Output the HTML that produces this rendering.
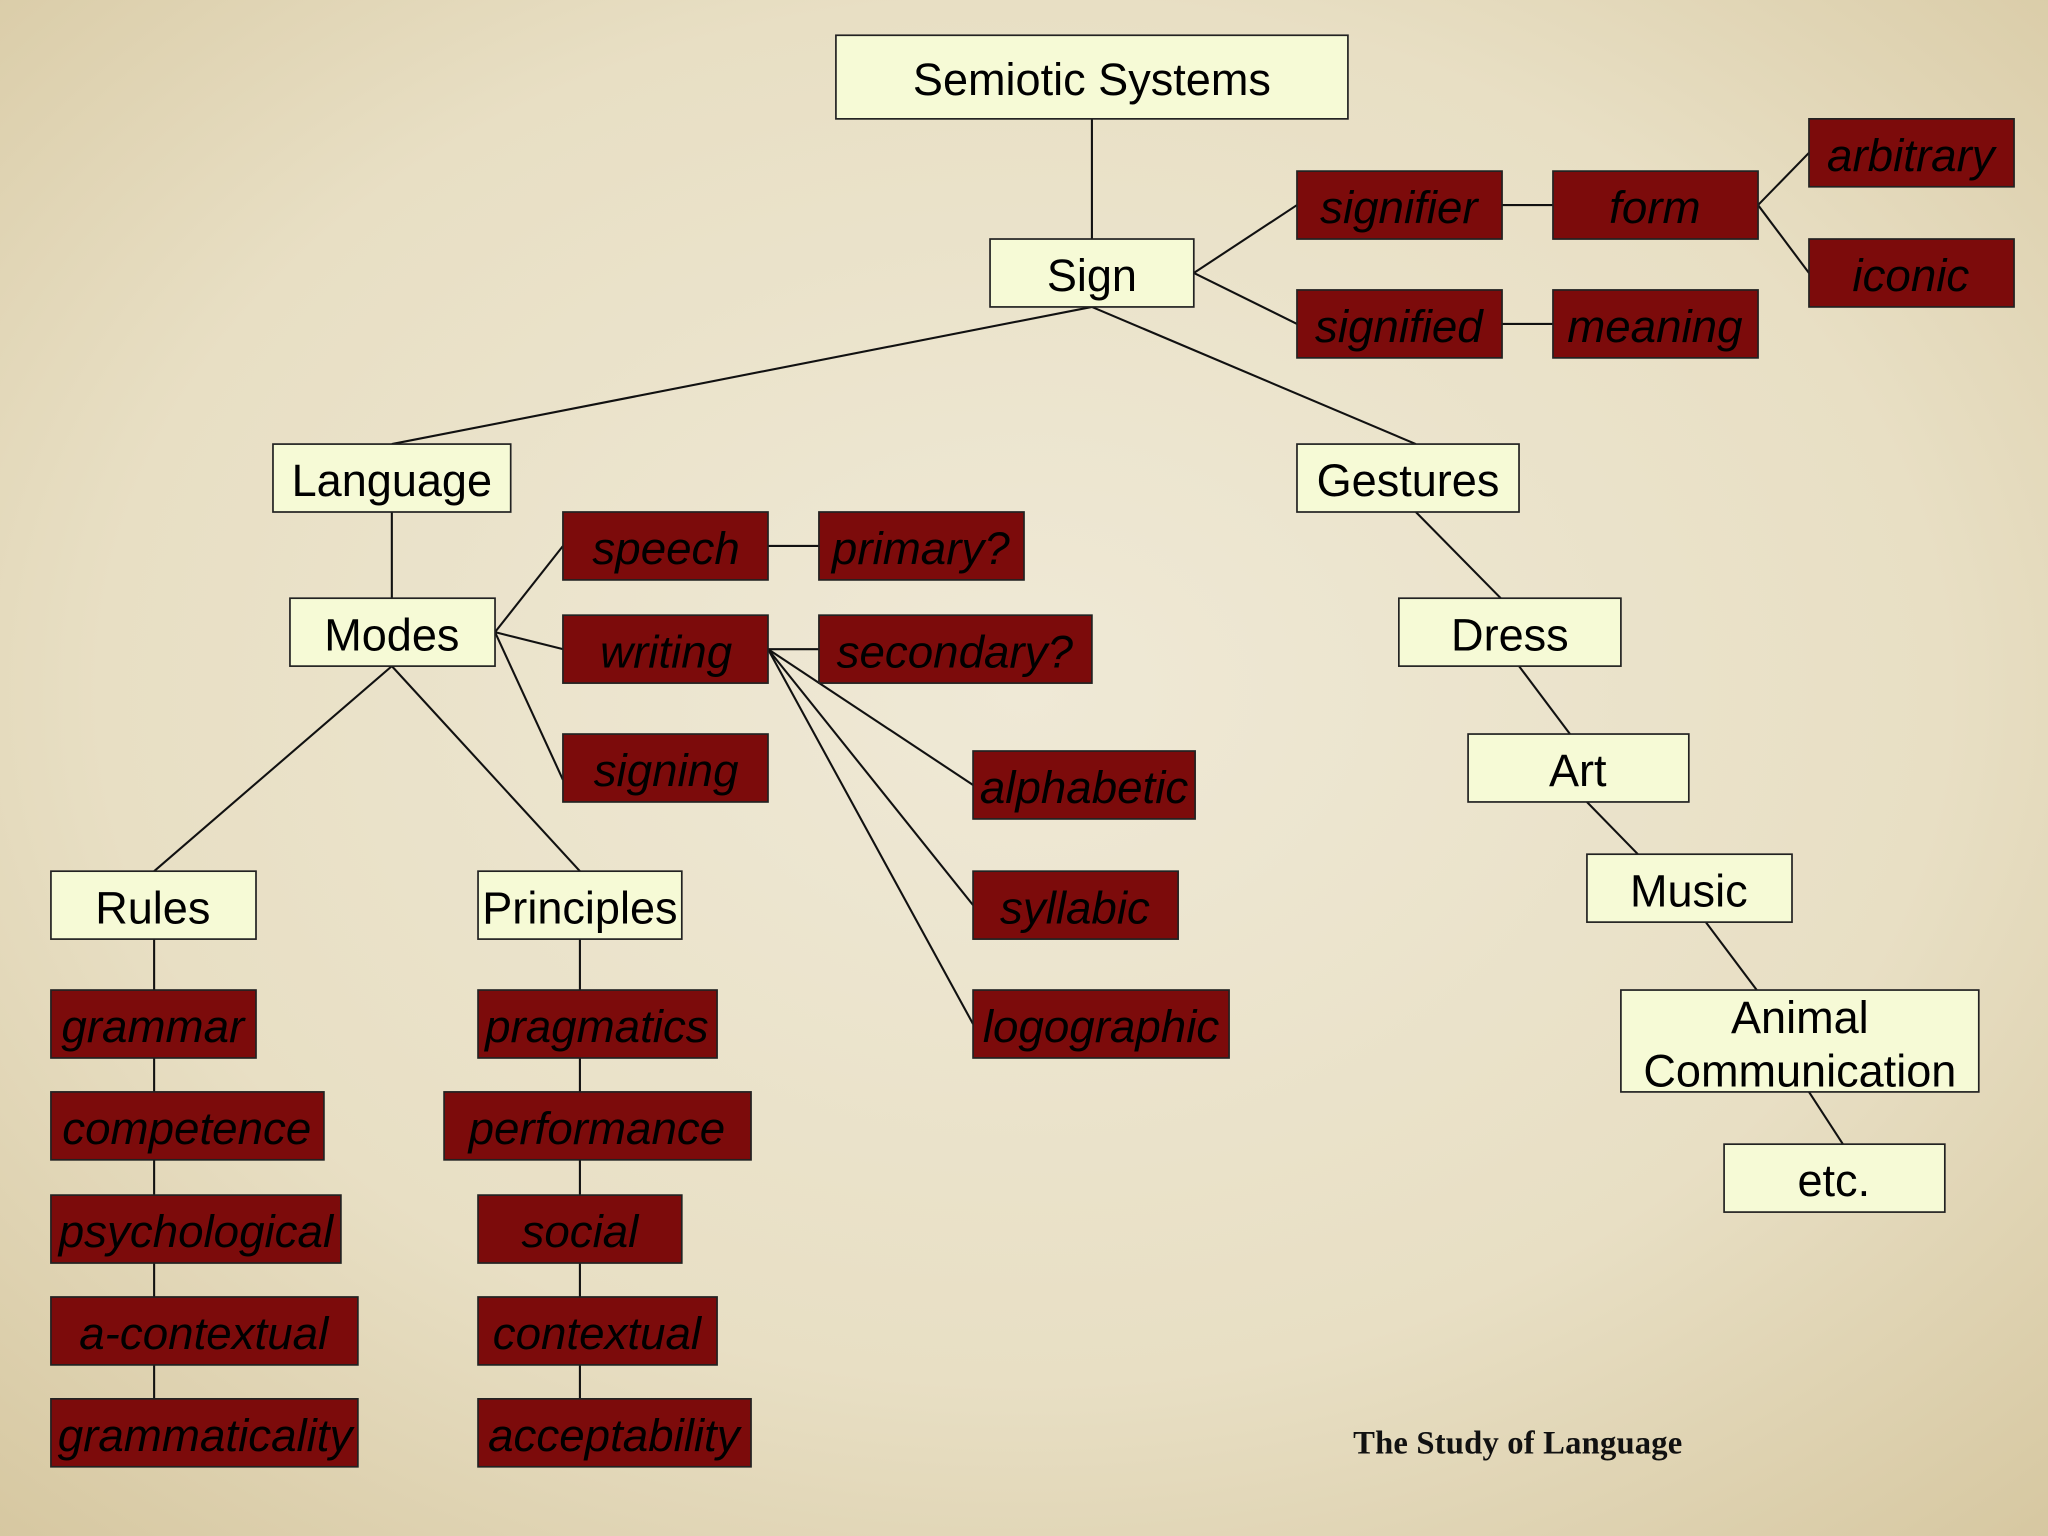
<!DOCTYPE html>
<html><head><meta charset="utf-8"><style>
html,body{margin:0;padding:0;width:2048px;height:1536px;overflow:hidden}
svg{display:block}
.l{fill:#f6fad6;stroke:#222;stroke-width:1.3}
.r{fill:#7c0b0b;stroke:#222;stroke-width:1.3}
.t{font-family:"Liberation Sans",sans-serif;font-size:34.5px;fill:#000;text-anchor:middle;dominant-baseline:central}
.i{font-style:italic;font-size:35px}
line{stroke:#111;stroke-width:1.6}
</style></head><body>
<svg width="2048" height="1536" viewBox="0 0 1568 1176" preserveAspectRatio="none">
<defs>
<radialGradient id="bg" cx="50%" cy="45%" r="75%">
<stop offset="0" stop-color="#efe9d6"/><stop offset="0.6" stop-color="#e8dfc4"/><stop offset="1" stop-color="#d6c7a0"/>
</radialGradient></defs>
<rect width="1568" height="1176" fill="url(#bg)"/>
<g>
<line x1="836" y1="91" x2="836" y2="183"/>
<line x1="914" y1="209" x2="993" y2="157"/><line x1="914" y1="209" x2="993" y2="248"/>
<line x1="1150" y1="157" x2="1189" y2="157"/><line x1="1150" y1="248" x2="1189" y2="248"/>
<line x1="1346" y1="157" x2="1385" y2="117"/><line x1="1346" y1="157" x2="1385" y2="209"/>
<line x1="836" y1="235" x2="300" y2="340"/><line x1="836" y1="235" x2="1084" y2="340"/>
<line x1="300" y1="392" x2="300" y2="458"/>
<line x1="379" y1="484" x2="431" y2="418"/><line x1="379" y1="484" x2="431" y2="497"/><line x1="379" y1="484" x2="431" y2="597"/>
<line x1="588" y1="418" x2="627" y2="418"/><line x1="588" y1="497" x2="627" y2="497"/>
<line x1="588" y1="497" x2="745" y2="601"/><line x1="588" y1="497" x2="745" y2="693"/><line x1="588" y1="497" x2="745" y2="784"/>
<line x1="300" y1="510" x2="118" y2="667"/><line x1="300" y1="510" x2="444" y2="667"/>
<line x1="118" y1="719" x2="118" y2="1071"/><line x1="444" y1="719" x2="444" y2="1071"/>
<line x1="1084" y1="392" x2="1149" y2="458"/><line x1="1163" y1="510" x2="1202" y2="562"/>
<line x1="1215" y1="614" x2="1254" y2="654"/><line x1="1306" y1="706" x2="1345" y2="758"/>
<line x1="1385" y1="836" x2="1411" y2="876"/>
</g>
<rect class="l" x="640" y="27" width="392" height="64"/><text class="t" x="836" y="61">Semiotic Systems</text>
<rect class="l" x="758" y="183" width="156" height="52"/><text class="t" x="836" y="211">Sign</text>
<rect class="l" x="209" y="340" width="182" height="52"/><text class="t" x="300" y="368">Language</text>
<rect class="l" x="993" y="340" width="170" height="52"/><text class="t" x="1078" y="368">Gestures</text>
<rect class="l" x="222" y="458" width="157" height="52"/><text class="t" x="300" y="486">Modes</text>
<rect class="l" x="39" y="667" width="157" height="52"/><text class="t" x="117" y="695">Rules</text>
<rect class="l" x="366" y="667" width="156" height="52"/><text class="t" x="444" y="695">Principles</text>
<rect class="l" x="1071" y="458" width="170" height="52"/><text class="t" x="1156" y="486">Dress</text>
<rect class="l" x="1124" y="562" width="169" height="52"/><text class="t" x="1208" y="590">Art</text>
<rect class="l" x="1215" y="654" width="157" height="52"/><text class="t" x="1293" y="682">Music</text>
<rect class="l" x="1241" y="758" width="274" height="78"/><text class="t" x="1378" y="779">Animal</text><text class="t" x="1378" y="820">Communication</text>
<rect class="l" x="1320" y="876" width="169" height="52"/><text class="t" x="1404" y="904">etc.</text>
<g>
<rect class="r" x="993" y="131" width="157" height="52"/><text class="t i" x="1071" y="159">signifier</text>
<rect class="r" x="1189" y="131" width="157" height="52"/><text class="t i" x="1267" y="159">form</text>
<rect class="r" x="1385" y="91" width="157" height="52"/><text class="t i" x="1463" y="119">arbitrary</text>
<rect class="r" x="1385" y="183" width="157" height="52"/><text class="t i" x="1463" y="211">iconic</text>
<rect class="r" x="993" y="222" width="157" height="52"/><text class="t i" x="1071" y="250">signified</text>
<rect class="r" x="1189" y="222" width="157" height="52"/><text class="t i" x="1267" y="250">meaning</text>
<rect class="r" x="431" y="392" width="157" height="52"/><text class="t i" x="510" y="420">speech</text>
<rect class="r" x="627" y="392" width="157" height="52"/><text class="t i" x="705" y="420">primary?</text>
<rect class="r" x="431" y="471" width="157" height="52"/><text class="t i" x="510" y="499">writing</text>
<rect class="r" x="627" y="471" width="209" height="52"/><text class="t i" x="731" y="499">secondary?</text>
<rect class="r" x="431" y="562" width="157" height="52"/><text class="t i" x="510" y="590">signing</text>
<rect class="r" x="745" y="575" width="170" height="52"/><text class="t i" x="830" y="603">alphabetic</text>
<rect class="r" x="745" y="667" width="157" height="52"/><text class="t i" x="823" y="695">syllabic</text>
<rect class="r" x="745" y="758" width="196" height="52"/><text class="t i" x="843" y="786">logographic</text>
<rect class="r" x="39" y="758" width="157" height="52"/><text class="t i" x="117" y="786">grammar</text>
<rect class="r" x="39" y="836" width="209" height="52"/><text class="t i" x="143" y="864">competence</text>
<rect class="r" x="39" y="915" width="222" height="52"/><text class="t i" x="150" y="943">psychological</text>
<rect class="r" x="39" y="993" width="235" height="52"/><text class="t i" x="156" y="1021">a-contextual</text>
<rect class="r" x="39" y="1071" width="235" height="52"/><text class="t i" x="157" y="1099">grammaticality</text>
<rect class="r" x="366" y="758" width="183" height="52"/><text class="t i" x="457" y="786">pragmatics</text>
<rect class="r" x="340" y="836" width="235" height="52"/><text class="t i" x="457" y="864">performance</text>
<rect class="r" x="366" y="915" width="156" height="52"/><text class="t i" x="444" y="943">social</text>
<rect class="r" x="366" y="993" width="183" height="52"/><text class="t i" x="457" y="1021">contextual</text>
<rect class="r" x="366" y="1071" width="209" height="52"/><text class="t i" x="470" y="1099">acceptability</text>
</g>
<text x="1162" y="1105" font-family="Liberation Serif,serif" font-size="25" font-weight="bold" text-anchor="middle" dominant-baseline="central" fill="#111" textLength="252">The Study of Language</text>
</svg>
</body></html>
